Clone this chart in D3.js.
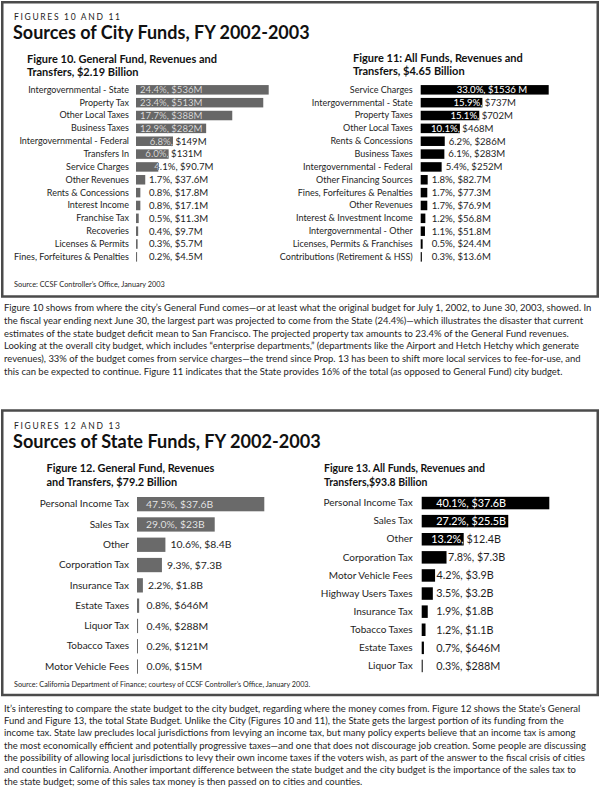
<!DOCTYPE html>
<html lang="en">

<head>
    <meta charset="UTF-8" />
    <title>Sources of City and State Funds, FY 2002-2003</title>
    <style>
        body { margin: 0; background: #fff; }
        svg { display: block; font-family: Lato, "Open Sans", sans-serif; }
    </style>
</head>

<body>
    <svg id="chart" width="600" height="790"></svg>

    <script src="https://d3js.org/d3.v7.min.js"></script>
    <script>
        // ---- data ----
        const fig10Categories = ['Intergovernmental - State', 'Property Tax', 'Other Local Taxes', 'Business Taxes',
            'Intergovernmental - Federal', 'Transfers In', 'Service Charges', 'Other Revenues', 'Rents & Concessions',
            'Interest Income', 'Franchise Tax', 'Recoveries', 'Licenses & Permits', 'Fines, Forfeitures & Penalties'];
        const fig10Pct = [24.4, 23.4, 17.7, 12.9, 6.8, 6.0, 4.1, 1.7, 0.8, 0.8, 0.5, 0.4, 0.3, 0.2];
        const fig10Values = ['$536M', '$513M', '$388M', '$282M', '$149M', '$131M', '$90.7M', '$37.6M', '$17.8M',
            '$17.1M', '$11.3M', '$9.7M', '$5.7M', '$4.5M'];

        const fig11Categories = ['Service Charges', 'Intergovernmental - State', 'Property Taxes', 'Other Local Taxes',
            'Rents & Concessions', 'Business Taxes', 'Intergovernmental - Federal', 'Other Financing Sources',
            'Fines, Forfeitures & Penalties', 'Other Revenues', 'Interest & Investment Income',
            'Intergovernmental - Other', 'Licenses, Permits & Franchises', 'Contributions (Retirement & HSS)'];
        const fig11Pct = [33.0, 15.9, 15.1, 10.1, 6.2, 6.1, 5.4, 1.8, 1.7, 1.7, 1.2, 1.1, 0.5, 0.3];
        const fig11Values = ['$1536 M', '$737M', '$702M', '$468M', '$286M', '$283M', '$252M', '$82.7M', '$77.3M',
            '$76.9M', '$56.8M', '$51.8M', '$24.4M', '$13.6M'];

        const fig12Categories = ['Personal Income Tax', 'Sales Tax', 'Other', 'Corporation Tax', 'Insurance Tax',
            'Estate Taxes', 'Liquor Tax', 'Tobacco Taxes', 'Motor Vehicle Fees'];
        const fig12Pct = [47.5, 29.0, 10.6, 9.3, 2.2, 0.8, 0.4, 0.2, 0.0];
        const fig12Values = ['$37.6B', '$23B', '$8.4B', '$7.3B', '$1.8B', '$646M', '$288M', '$121M', '$15M'];

        const fig13Categories = ['Personal Income Tax', 'Sales Tax', 'Other', 'Corporation Tax', 'Motor Vehicle Fees',
            'Highway Users Taxes', 'Insurance Tax', 'Tobacco Taxes', 'Estate Taxes', 'Liquor Tax'];
        const fig13Pct = [40.1, 27.2, 13.2, 7.8, 4.2, 3.5, 1.9, 1.2, 0.7, 0.3];
        const fig13Values = ['$37.6B', '$25.5B', '$12.4B', '$7.3B', '$3.9B', '$3.2B', '$1.8B', '$1.1B', '$646M', '$288M'];

        const para1Lines = [
            'Figure 10 shows from where the city\u2019s General Fund comes\u2014or at least what the original budget for July 1, 2002, to June 30, 2003, showed. In',
            'the fiscal year ending next June 30, the largest part was projected to come from the State (24.4%)\u2014which illustrates the disaster that current',
            'estimates of the state budget deficit mean to San Francisco. The projected property tax amounts to 23.4% of the General Fund revenues.',
            'Looking at the overall city budget, which includes \u201centerprise departments,\u201d (departments like the Airport and Hetch Hetchy which generate',
            'revenues), 33% of the budget comes from service charges\u2014the trend since Prop. 13 has been to shift more local services to fee-for-use, and',
            'this can be expected to continue. Figure 11 indicates that the State provides 16% of the total (as opposed to General Fund) city budget.'
        ];
        const para2Lines = [
            'It\u2019s interesting to compare the state budget to the city budget, regarding where the money comes from. Figure 12 shows the State\u2019s General',
            'Fund and Figure 13, the total State Budget. Unlike the City (Figures 10 and 11), the State gets the largest portion of its funding from the',
            'income tax. State law precludes local jurisdictions from levying an income tax, but many policy experts believe that an income tax is among',
            'the most economically efficient and potentially progressive taxes\u2014and one that does not discourage job creation. Some people are discussing',
            'the possibility of allowing local jurisdictions to levy their own income taxes if the voters wish, as part of the answer to the fiscal crisis of cities',
            'and counties in California. Another important difference between the state budget and the city budget is the importance of the sales tax to',
            'the state budget; some of this sales tax money is then passed on to cities and counties.'
        ];

        const svg = d3.select('#chart');
        const defs = svg.append('defs');
        const ink = '#1e1e1e';

        // scale a text's font-size so it spans the given width
        function fitSize(sel, base, target) {
            sel.attr('font-size', base);
            const w = sel.node().getComputedTextLength();
            const s = base * target / w;
            sel.attr('font-size', s);
            return s;
        }

        function measure(str, size, weight) {
            const t = svg.append('text').attr('font-size', size).attr('font-weight', weight || 400).text(str);
            const w = t.node().getComputedTextLength();
            t.remove();
            return w;
        }

        // frames
        const frame = (y0, y1) => svg.append('rect')
            .attr('x', 2.25).attr('y', y0).attr('width', 595.5).attr('height', y1 - y0)
            .attr('fill', 'none').attr('stroke', '#4b4b4b').attr('stroke-width', 2.5);
        frame(2.25, 296.5);
        frame(410.5, 695);

        // headings
        const kicker = (y, str) => svg.append('text').attr('x', 14).attr('y', y)
            .attr('font-size', 8.5).attr('fill', ink).attr('textLength', 106).attr('lengthAdjust', 'spacing').text(str);
        const heading = (y, str, w) => fitSize(svg.append('text').attr('x', 13).attr('y', y)
            .attr('font-weight', 700).attr('fill', '#111').text(str), 18, w);
        kicker(19.5, 'FIGURES 10 AND 11');
        heading(38.5, 'Sources of City Funds, FY 2002-2003', 297);
        kicker(428.5, 'FIGURES 12 AND 13');
        heading(448, 'Sources of State Funds, FY 2002-2003', 308);

        function subtitle(x, y, lines, w, lh) {
            const t1 = svg.append('text').attr('x', x).attr('y', y).attr('font-weight', 700).attr('fill', '#111').text(lines[0]);
            const s = fitSize(t1, 11, w);
            svg.append('text').attr('x', x).attr('y', y + lh).attr('font-weight', 700).attr('fill', '#111')
                .attr('font-size', s).text(lines[1]);
        }
        subtitle(27, 63, ['Figure 10. General Fund, Revenues and', 'Transfers, $2.19 Billion'], 190, 13);
        subtitle(353, 62, ['Figure 11: All Funds, Revenues and', 'Transfers, $4.65 Billion'], 170, 13);
        subtitle(46.5, 472, ['Figure 12. General Fund, Revenues', 'and Transfers, $79.2 Billion'], 168, 13.5);
        subtitle(324, 472, ['Figure 13. All Funds, Revenues and', 'Transfers,$93.8 Billion'], 161, 13.5);

        // sources
        fitSize(svg.append('text').attr('x', 14).attr('y', 287).attr('fill', ink)
            .text('Source: CCSF Controller\u2019s Office, January 2003'), 7.5, 151);
        fitSize(svg.append('text').attr('x', 14).attr('y', 687).attr('fill', ink)
            .text('Source: California Department of Finance; courtesy of CCSF Controller\u2019s Office, January 2003.'), 7.5, 297);

        // bar figures
        let clipN = 0;
        function drawFigure(cfg) {
            const g = svg.append('g');
            const n = cfg.categories.length;
            const pad = 1 - cfg.barH / cfg.step;
            const y = d3.scaleBand().domain(cfg.categories)
                .range([cfg.top, cfg.top + cfg.step * n])
                .paddingInner(pad).paddingOuter(pad / 2);
            const x = d3.scaleLinear().domain([0, d3.max(cfg.pct)]).range([cfg.x0, cfg.x0 + cfg.maxW]);

            const axis = g.append('g')
                .attr('transform', `translate(${cfg.x0 - cfg.labelGap},0)`)
                .call(d3.axisLeft(y).tickSize(0).tickPadding(0));
            axis.select('.domain').remove();
            axis.attr('font-family', null).attr('font-size', cfg.catSize);
            axis.selectAll('text').attr('fill', ink);

            const rows = cfg.categories.map((c, i) => ({ c, p: cfg.pct[i], v: cfg.values[i] }));
            const barW = d => Math.max(1, x(d.p) - cfg.x0);

            g.selectAll('rect.bar').data(rows).join('rect')
                .attr('class', 'bar')
                .attr('x', cfg.x0).attr('y', d => y(d.c))
                .attr('width', barW).attr('height', y.bandwidth())
                .attr('fill', cfg.barColor);

            // value labels: dark text, with a light copy clipped to the bar
            rows.forEach(d => {
                const pctStr = d3.format('.1f')(d.p) + '%,';
                const label = pctStr + ' ' + d.v;
                const fullW = measure(label, cfg.valSize);
                const pctW = measure(pctStr, cfg.valSize);
                const w = barW(d), x1 = cfg.x0 + w;
                let tx;
                if (w >= fullW + cfg.inPad + 2) tx = cfg.x0 + cfg.inPad;
                else if (w >= pctW + 2) tx = x1 - pctW;
                else tx = Math.max(x1 + cfg.gap, cfg.x0 + cfg.minPad);

                const ty = y(d.c) + y.bandwidth() / 2;
                const id = 'clip' + (clipN++);
                defs.append('clipPath').attr('id', id).append('rect')
                    .attr('x', cfg.x0).attr('y', y(d.c)).attr('width', w).attr('height', y.bandwidth());

                g.append('text').attr('x', tx).attr('y', ty).attr('dy', '0.35em')
                    .attr('font-size', cfg.valSize).attr('fill', ink).text(label);
                g.append('text').attr('x', tx).attr('y', ty).attr('dy', '0.35em')
                    .attr('font-size', cfg.valSize).attr('fill', cfg.inColor)
                    .attr('clip-path', `url(#${id})`).text(label);
            });
        }

        drawFigure({
            categories: fig10Categories, pct: fig10Pct, values: fig10Values,
            x0: 136, maxW: 132.7, top: 83.4, step: 12.85, barH: 9.5,
            labelGap: 7, catSize: 9, valSize: 9.6,
            barColor: '#676767', inColor: '#e4e4e4', inPad: 4, gap: -4, minPad: 13
        });
        drawFigure({
            categories: fig11Categories, pct: fig11Pct, values: fig11Values,
            x0: 420.7, maxW: 128, top: 83.4, step: 12.85, barH: 9.5,
            labelGap: 8, catSize: 9, valSize: 9.6,
            barColor: '#000', inColor: '#fff', inPad: 36, gap: 4, minPad: 11
        });
        drawFigure({
            categories: fig12Categories, pct: fig12Pct, values: fig12Values,
            x0: 137, maxW: 127.3, top: 494, step: 20.3, barH: 14.3,
            labelGap: 8, catSize: 10, valSize: 10.4,
            barColor: '#6a6a6a', inColor: '#f2f2f2', inPad: 9, gap: 5, minPad: 9.5
        });
        drawFigure({
            categories: fig13Categories, pct: fig13Pct, values: fig13Values,
            x0: 421.7, maxW: 127.6, top: 494, step: 18.1, barH: 12.5,
            labelGap: 9, catSize: 10, valSize: 10.8,
            barColor: '#000', inColor: '#fff', inPad: 14.5, gap: 1.5, minPad: 14.5
        });

        // body text
        const paraSize = (() => {
            const widest = d3.max(para1Lines.concat(para2Lines), l => measure(l, 10));
            return 10 * 588 / widest;
        })();
        const paragraph = (y0, lines, lh) => svg.append('g').selectAll('text').data(lines).join('text')
            .attr('x', 4).attr('y', (d, i) => y0 + i * lh)
            .attr('font-size', paraSize).attr('fill', ink).text(d => d);
        paragraph(311, para1Lines, 12.8);
        paragraph(712, para2Lines, 12.2);
    </script>
</body>

</html>
